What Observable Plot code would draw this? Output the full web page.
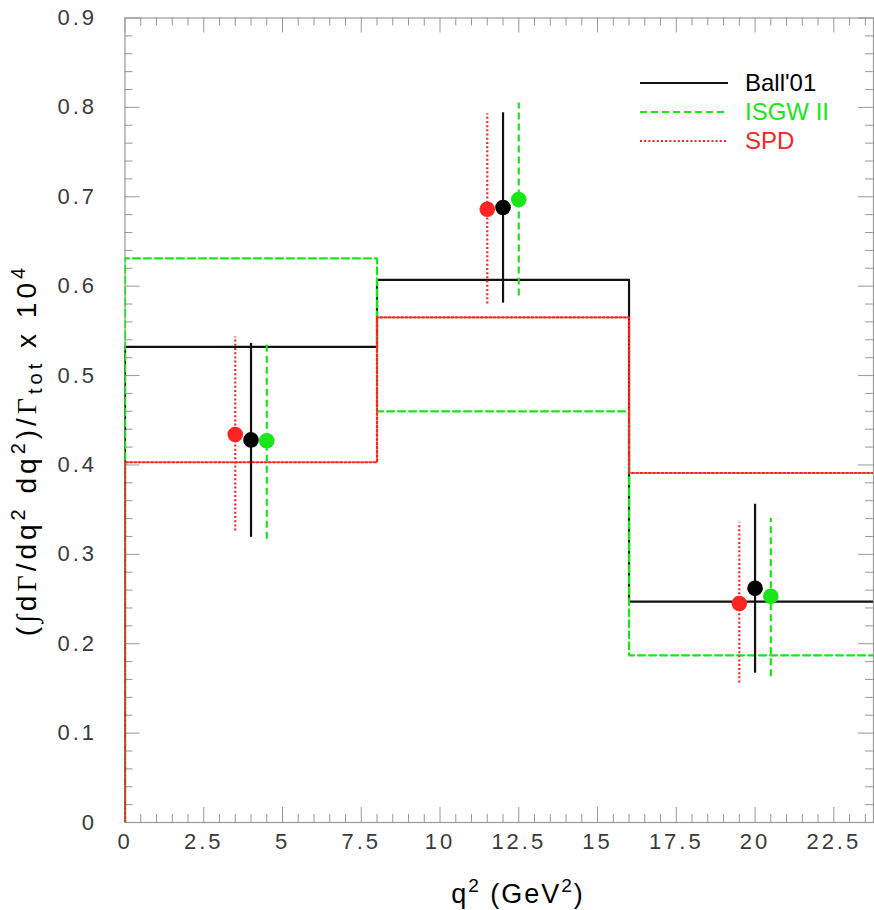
<!DOCTYPE html>
<html>
<head>
<meta charset="utf-8">
<script src="https://cdn.jsdelivr.net/npm/d3@7"></script>
<script src="https://cdn.jsdelivr.net/npm/@observablehq/plot@0.6"></script>
<style>
  html, body { margin: 0; padding: 0; background: #fff; }
  #chart svg { display: block; }
</style>
</head>
<body>
<div id="chart"></div>
<script>
// Histogram bins in q^2 (GeV^2) and the binned rate per model (x 10^4)
const binEdges = [0, 8, 16, 24];
const ballBins = [0.532, 0.607, 0.247];
const isgwBins = [0.631, 0.460, 0.187];
const spdBins  = [0.403, 0.565, 0.391];

// Measured points with error bars, one set per model hypothesis
const ballX  = [4, 12, 20];
const ballY  = [0.428, 0.688, 0.262];
const ballLo = [0.319, 0.581, 0.167];
const ballHi = [0.536, 0.794, 0.356];

const isgwX  = [4.5, 12.5, 20.5];
const isgwY  = [0.427, 0.697, 0.253];
const isgwLo = [0.317, 0.589, 0.163];
const isgwHi = [0.536, 0.805, 0.340];

const spdX  = [3.5, 11.5, 19.5];
const spdY  = [0.434, 0.686, 0.245];
const spdLo = [0.326, 0.580, 0.156];
const spdHi = [0.543, 0.793, 0.335];

// Axis ticks
const xTicks = [0, 2.5, 5, 7.5, 10, 12.5, 15, 17.5, 20, 22.5];
const yTicks = [0, 0.1, 0.2, 0.3, 0.4, 0.5, 0.6, 0.7, 0.8, 0.9];
const xMax = 23.76;

const models = [
  {name: "Ball'01", bins: ballBins, x: ballX, y: ballY, lo: ballLo, hi: ballHi, color: "#111", dot: "#000", dash: null},
  {name: "ISGW II", bins: isgwBins, x: isgwX, y: isgwY, lo: isgwLo, hi: isgwHi, color: "#19e619", dot: "#19e619", dash: "7,4"},
  {name: "SPD",     bins: spdBins,  x: spdX,  y: spdY,  lo: spdLo,  hi: spdHi,  color: "#ff2424", dot: "#ff2424", dash: "2,2.2"}
];

// Step outline: rise from zero at the first edge, then one level per bin
function stepPoints(bins) {
  const pts = [{x: binEdges[0], y: 0}];
  bins.forEach((v, i) => pts.push({x: binEdges[i], y: v}));
  pts.push({x: binEdges[binEdges.length - 1], y: bins[bins.length - 1]});
  return pts;
}
function pointRows(m) {
  return m.x.map((x, i) => ({x, y: m.y[i], lo: m.lo[i], hi: m.hi[i]}));
}

const W = 874, H = 910;
const mL = 124.5, mR = 1, mT = 17.5, mB = 88;
const plotW = W - mL - mR, plotH = H - mT - mB;
const major = 15, minor = 8;

const minorX = d3.range(0, xMax, 0.5).filter(v => Math.abs(v / 2.5 - Math.round(v / 2.5)) > 1e-6);
const minorY = d3.range(0, 0.9, 0.02).filter(v => Math.abs(v / 0.1 - Math.round(v / 0.1)) > 1e-6);
const tickStroke = "#999";

const lineOrder = [models[0], models[1], models[2]];
const pointOrder = [models[2], models[1], models[0]];

const chart = Plot.plot({
  width: W, height: H,
  marginLeft: mL, marginRight: mR, marginTop: mT, marginBottom: mB,
  x: {domain: [0, xMax]},
  y: {domain: [0, 0.9]},
  style: {fontFamily: "'Liberation Sans', Arial, Helvetica, sans-serif", background: "#fff"},
  marks: [
    Plot.frame({stroke: tickStroke, strokeWidth: 1.2}),
    // inward ticks on all four sides
    Plot.tickX(xTicks, {x: d => d, stroke: tickStroke, insetTop: plotH - major}),
    Plot.tickX(minorX, {x: d => d, stroke: tickStroke, insetTop: plotH - minor}),
    Plot.tickX(xTicks, {x: d => d, stroke: tickStroke, insetBottom: plotH - major}),
    Plot.tickX(minorX, {x: d => d, stroke: tickStroke, insetBottom: plotH - minor}),
    Plot.tickY(yTicks, {y: d => d, stroke: tickStroke, insetRight: plotW - major}),
    Plot.tickY(minorY, {y: d => d, stroke: tickStroke, insetRight: plotW - minor}),
    Plot.tickY(yTicks, {y: d => d, stroke: tickStroke, insetLeft: plotW - major}),
    Plot.tickY(minorY, {y: d => d, stroke: tickStroke, insetLeft: plotW - minor}),
    Plot.axisX({ticks: xTicks, tickFormat: d => String(d), tickSize: 0, tickPadding: 11, fontSize: 22, color: "#3a3a3a", label: null}),
    Plot.axisY({ticks: yTicks, tickFormat: d => String(d), tickSize: 0, tickPadding: 28, fontSize: 22, color: "#3a3a3a", label: null}),
    // model histograms
    ...lineOrder.map(m => Plot.line(stepPoints(m.bins), {
      x: "x", y: "y", curve: "step-after", stroke: m.color, strokeWidth: 2.2,
      strokeDasharray: m.dash, clip: true
    })),
    // error bars and central values
    ...pointOrder.map(m => Plot.ruleX(pointRows(m), {
      x: "x", y1: "lo", y2: "hi", stroke: m.color, strokeWidth: 2.2, strokeDasharray: m.dash
    })),
    ...pointOrder.map(m => Plot.dot(pointRows(m), {
      x: "x", y: "y", r: 7.8, fill: m.dot, stroke: "none"
    }))
  ]
});

const svg = d3.select(chart);
svg.selectAll("g[aria-label='x-axis tick label'] text, g[aria-label='y-axis tick label'] text")
  .style("letter-spacing", "3px");

// axis titles
const yTitle = svg.append("text")
  .attr("transform", "translate(36,450) rotate(-90)")
  .attr("text-anchor", "middle")
  .attr("font-size", 28)
  .style("letter-spacing", "4px")
  .attr("fill", "#000");
yTitle.append("tspan").text("(");
yTitle.append("tspan").attr("font-family", "'Liberation Serif', serif").text("∫");
yTitle.append("tspan").text("d");
yTitle.append("tspan").attr("font-family", "'Liberation Serif', serif").text("Γ");
yTitle.append("tspan").text("/dq");
yTitle.append("tspan").attr("font-size", 20).attr("dy", -11).text("2");
yTitle.append("tspan").attr("dy", 11).text(" dq");
yTitle.append("tspan").attr("font-size", 20).attr("dy", -11).text("2");
yTitle.append("tspan").attr("dy", 11).text(")/");
yTitle.append("tspan").attr("font-family", "'Liberation Serif', serif").text("Γ");
yTitle.append("tspan").attr("font-size", 20).attr("dy", 6).text("tot");
yTitle.append("tspan").attr("dy", -6).text(" x 10");
yTitle.append("tspan").attr("font-size", 20).attr("dy", -11).text("4");

const xTitle = svg.append("text")
  .attr("x", 518).attr("y", 903)
  .attr("text-anchor", "middle")
  .attr("font-size", 27)
  .style("letter-spacing", "2px")
  .attr("fill", "#000");
xTitle.append("tspan").text("q");
xTitle.append("tspan").attr("font-size", 19).attr("dy", -11).text("2");
xTitle.append("tspan").attr("dy", 11).text(" (GeV");
xTitle.append("tspan").attr("font-size", 19).attr("dy", -11).text("2");
xTitle.append("tspan").attr("dy", 11).text(")");

// legend
const legend = svg.append("g").attr("font-size", 24).attr("text-anchor", "start");
models.forEach((m, i) => {
  const y = 83 + i * 29;
  legend.append("line")
    .attr("x1", 640).attr("x2", 728).attr("y1", y).attr("y2", y)
    .attr("stroke", m.color).attr("stroke-width", 2)
    .attr("stroke-dasharray", m.dash);
  legend.append("text")
    .attr("x", 745).attr("y", y).attr("dy", "0.35em")
    .attr("fill", m.dot)
    .text(m.name);
});

document.getElementById("chart").appendChild(chart);
</script>
</body>
</html>
